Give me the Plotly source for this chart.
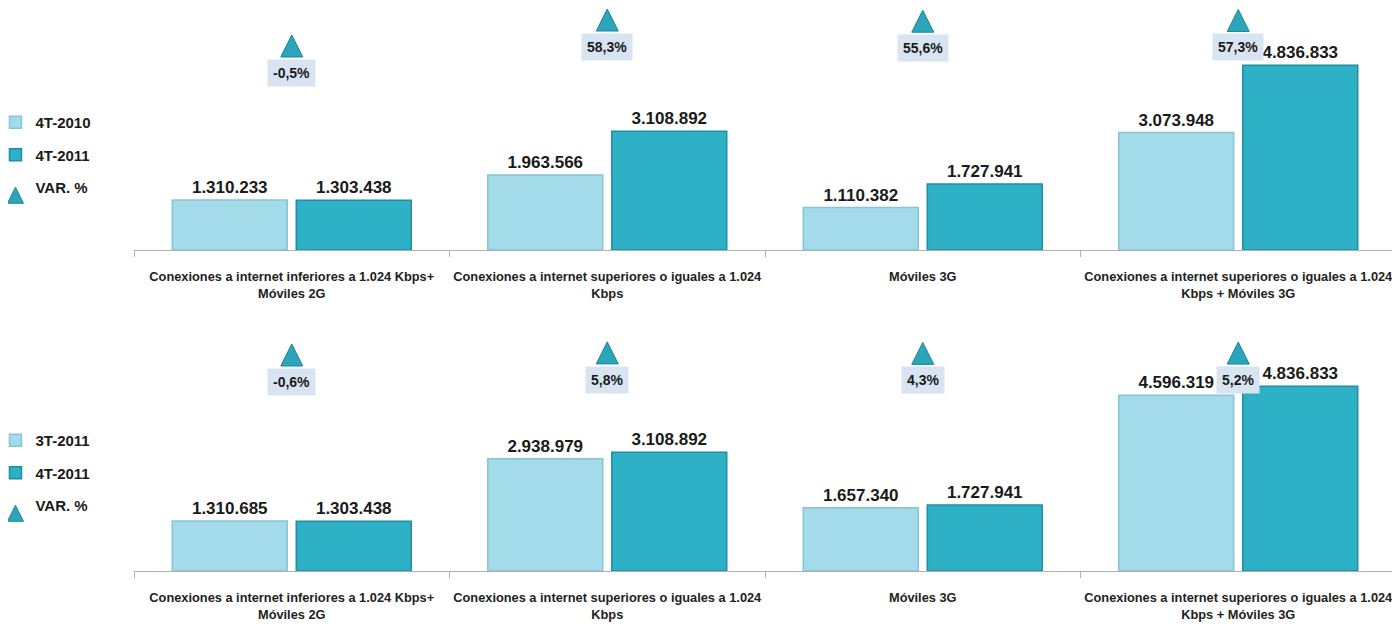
import plotly.graph_objects as go

# ---------------- data ----------------
categories = [
    "Conexiones a internet inferiores a 1.024 Kbps+<br>Móviles 2G",
    "Conexiones a internet superiores o iguales a 1.024<br>Kbps",
    "Móviles 3G",
    "Conexiones a internet superiores o iguales a 1.024<br>Kbps + Móviles 3G",
]
top_prev_name = "4T-2010"
top_curr_name = "4T-2011"
top_prev = [1310233, 1963566, 1110382, 3073948]
top_curr = [1303438, 3108892, 1727941, 4836833]
top_var = [-0.5, 58.3, 55.6, 57.3]

bot_prev_name = "3T-2011"
bot_curr_name = "4T-2011"
bot_prev = [1310685, 2938979, 1657340, 4596319]
bot_curr = [1303438, 3108892, 1727941, 4836833]
bot_var = [-0.6, 5.8, 4.3, 5.2]

var_name = "VAR. %"

# ---------------- style ----------------
OFF = 8                      # page body margin
W, H = 1400 - OFF, 624 - OFF  # figure size (visible part of the page)
LIGHT = "#a3dbea"
LIGHT_EDGE = "#86c4d6"
DARK = "#2eb0c6"
DARK_EDGE = "#1e8ea2"
TRI = "#2aa5ba"
TRI_EDGE = "#1c8496"
TXT = "#1a1a1a"
LBL_BG = "#d8e4f2"

val_font = dict(family="Liberation Sans, Arial, sans-serif", size=17, color=TXT, weight="bold")
pct_font = dict(family="Liberation Sans, Arial, sans-serif", size=14, color=TXT, weight="bold")
cat_font = dict(family="Liberation Sans, Arial, sans-serif", size=12.8, color="#222222", weight="bold")
leg_font = dict(family="Liberation Sans, Arial, sans-serif", size=15, color=TXT, weight="bold")


def fx(p):
    return (p - OFF) / W


def fy(p):
    return min(1.0, (H - (p - OFF)) / H)


fig = go.Figure()

panels = [
    dict(x="x", y="y", y2="y2", legend="legend", prev=top_prev, curr=top_curr, var=top_var,
         pn=top_prev_name, cn=top_curr_name),
    dict(x="x2", y="y3", y2="y4", legend="legend2", prev=bot_prev, curr=bot_curr, var=bot_var,
         pn=bot_prev_name, cn=bot_curr_name),
]

annotations = []
for k, p in enumerate(panels):
    fig.add_trace(go.Bar(
        x=categories, y=p["prev"], name=p["pn"], xaxis=p["x"], yaxis=p["y"],
        marker=dict(color=LIGHT, line=dict(color=LIGHT_EDGE, width=1.5)),
        texttemplate="%{y:,}", textposition="outside", textfont=val_font,
        cliponaxis=False, legend=p["legend"], legendgroup=f"a{k}",
    ))
    fig.add_trace(go.Bar(
        x=categories, y=p["curr"], name=p["cn"], xaxis=p["x"], yaxis=p["y"],
        marker=dict(color=DARK, line=dict(color=DARK_EDGE, width=1.5)),
        texttemplate="%{y:,}", textposition="outside", textfont=val_font,
        cliponaxis=False, legend=p["legend"], legendgroup=f"b{k}",
    ))
    fig.add_trace(go.Scatter(
        x=categories, y=p["var"], name=var_name, xaxis=p["x"], yaxis=p["y2"], mode="markers",
        marker=dict(symbol="arrow-up", size=22, color=TRI, line=dict(color=TRI_EDGE, width=1)),
        cliponaxis=False, legend=p["legend"], legendgroup=f"c{k}",
    ))
    for c, v in zip(categories, p["var"]):
        annotations.append(dict(
            x=c, y=v, xref=p["x"], yref=p["y2"], yshift=-38, showarrow=False,
            text=f"{v:.1f}".replace(".", ",") + "%", font=pct_font,
            bgcolor=LBL_BG, borderpad=5,
        ))

x_dom = [fx(134), min(1.0, fx(1396))]
xaxis_common = dict(
    type="category", range=[-0.5, 3.5], domain=x_dom,
    showline=True, linecolor="#b0b0b0", linewidth=1,
    ticks="outside", tickson="boundaries", ticklen=6, tickcolor="#b0b0b0",
    tickfont=cat_font, ticklabelstandoff=15, tickangle=0, automargin=False,
    showgrid=False, zeroline=False,
)
yhidden = dict(visible=False, showgrid=False, zeroline=False, automargin=False)

fig.update_layout(
    width=W, height=H,
    margin=dict(l=0, r=0, t=0, b=0, autoexpand=False),
    paper_bgcolor="white", plot_bgcolor="white",
    separators=",.",
    barmode="group", bargap=0.214, bargroupgap=0.073,
    xaxis=dict(**xaxis_common, anchor="y"),
    xaxis2=dict(**xaxis_common, anchor="y3"),
    yaxis=dict(**yhidden, domain=[fy(250), fy(8)], range=[0, 6.335e6]),
    yaxis2=dict(**yhidden, overlaying="y", range=[-486.9, 60.6]),
    yaxis3=dict(**yhidden, domain=[fy(571), fy(331)], range=[0, 6.28e6]),
    yaxis4=dict(**yhidden, overlaying="y3", range=[-688.5, 38.8]),
    legend=dict(x=-0.009, y=fy(106), xanchor="left", yanchor="top", font=leg_font,
                tracegroupgap=10, bgcolor="rgba(0,0,0,0)", itemwidth=30),
    legend2=dict(x=-0.009, y=fy(424), xanchor="left", yanchor="top", font=leg_font,
                 tracegroupgap=10, bgcolor="rgba(0,0,0,0)", itemwidth=30),
    annotations=annotations,
    showlegend=True,
)

fig.write_html("out.html")
